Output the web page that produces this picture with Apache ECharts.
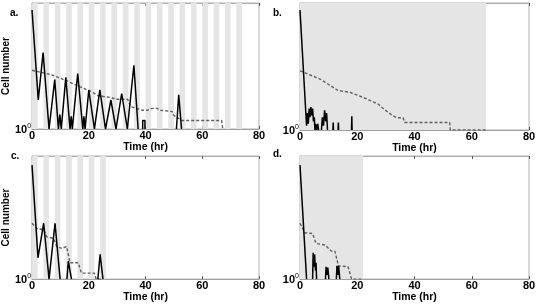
<!DOCTYPE html>
<html><head><meta charset="utf-8">
<script src="https://cdn.jsdelivr.net/npm/echarts@6/dist/echarts.min.js"></script>
<style>html,body{margin:0;padding:0;background:#fff}#c{width:545px;height:304px}</style>
</head><body><div id="c"></div>
<script>
// ---- data (time in hr, cell number; null = gap in the trace) ----
const xTicks = [0, 20, 40, 60, 80];
const panelLabels = ['a.', 'b.', 'c.', 'd.'];

const aBands = [[0,2],[4,6],[8,10],[12,14],[16,18],[20,22],[24,26],[28,30],[32,34],[36,38],[40,42],[44,46],[48,50],[52,54],[56,58],[60,62],[64,66],[68,70],[72,74]];
const aSolidT = [0, 2.2, 3.9, 6.0, 8.0, 9.3, 9.8, 10.3, 11.9, 13.4, 13.8, 14.2, 16.1, 17.9, 18.3, 18.7, 20.0, 22.0, 23.9, 25.9, 27.8, 29.6, 31.6, 33.6, 35.9, 37.4, 38.2, 39.0, 39.0, 39.8, 39.8, 45, 50.9, 51.7, 52.7];
const aSolidN = [680, 4.9, 66, 1, 15, 1, 2.2, 1, 17, 1, 2, 1, 21, 1, 2, 1, 8.5, 1, 8.5, 1, 4.9, 1, 7, 1, 33, 1, null, 1, 1.6, 1.6, 1, null, 1, 6.5, 1];
const aDashT = [0, 7.0, 12.8, 16.3, 20.9, 23.2, 27.9, 29.6, 33.7, 34.8, 38.9, 40.6, 42.4, 44.1, 45.3, 49.4, 50.0, 52.8, 66.8, 67.2];
const aDashN = [25, 19.5, 13.5, 10.5, 7.8, 6.2, 5.6, 5.1, 5.1, 3.4, 2.8, 2.8, 3.1, 3.1, 2.8, 2.6, 2.1, 1.6, 1.6, 1.05];

const bBands = [[0,65]];
const bSolidT = [0, 2.0, 2.3, 2.6, 2.9, 3.2, 3.5, 3.8, 4.1, 4.4, 4.7, 5.0, 5.2, 5.5, 5.8, 6.2, 6.5, 7.0, 7.5, 7.8, 8.2, 8.6, 9.0, 9.3, 9.6, 10.5, 11.5, 11.6, 11.7, 12.5, 13.3, 13.4, 13.5, 15, 18.0, 18.1, 18.2];
const bSolidN = [680, 2.8, 1.26, 2.5, 1.4, 3.2, 2, 3.5, 2.2, 3.2, 1.6, 2, 1, 1.4, 1, 1.4, 1, null, 1, 2, 1.26, 2.9, 1.6, 2.5, 1, null, 1, 1.5, 1, null, 1, 1.5, 1, null, 1, 2.1, 1];
const bDashT = [0, 7, 13.4, 17.4, 22, 27.3, 29.6, 31.9, 33.7, 36, 36.6, 52.3, 52.5, 65];
const bDashN = [25, 16, 8.5, 7.8, 5.9, 4.1, 3, 2.3, 1.95, 1.95, 1.5, 1.5, 1, 1];

const cBands = [[0,2],[4,6],[8,10],[12,14],[16,18],[20,22],[24,26]];
const cSolidT = [0, 2.1, 4.1, 6.0, 8.1, 9.9, 11, 12.3, 12.8, 13.9, 18, 23.2, 24.0, 25.0];
const cSolidN = [600, 3.3, 23, 1, 23, 1, null, 1, 2.75, 1, null, 1, 4, 1];
const cDashT = [0, 1.7, 4.1, 5.2, 7.6, 8.7, 10.5, 12.2, 13.4, 16.3, 17.4, 22.0, 22.6, 25];
const cDashN = [23, 17, 16, 10.7, 9.8, 6.2, 5.6, 6.2, 2.5, 2.5, 1.4, 1.4, 1, 1];

const dBands = [[0,22]];
const dSolidT = [0, 2.3, 3.3, 4.4, 4.6, 4.9, 5.1, 5.4, 5.6, 5.8, 7, 8.9, 9.1, 9.4, 9.7, 10.1, 11, 12.7, 12.9, 13.2, 13.5, 13.9];
const dSolidN = [600, 1, null, 1, 4.4, 2, 4, 1.6, 2.5, 1, null, 1, 2, 1.26, 1.9, 1, null, 1, 2.1, 1.26, 2.1, 1];
const dDashT = [0, 1.7, 4.4, 5.6, 8.7, 11.0, 12.2, 13.4, 16.8, 18.0, 21.8];
const dDashN = [23, 13.5, 12.9, 7.4, 6.8, 4.8, 4.8, 2.1, 2, 1, 1];

// ---- layout ----
const FONT = "'Liberation Sans', Arial, Helvetica, sans-serif";
const panels = [
  {grid:{left:30, top:3, width:229, height:126}, bands:aBands, sT:aSolidT, sN:aSolidN, dT:aDashT, dN:aDashN, yName:'Cell number', lab:[10,12]},
  {grid:{left:300, top:3, width:229, height:127}, bands:bBands, sT:bSolidT, sN:bSolidN, dT:bDashT, dN:bDashN, yName:'', lab:[273,12]},
  {grid:{left:30, top:156, width:229, height:126}, bands:cBands, sT:cSolidT, sN:cSolidN, dT:cDashT, dN:cDashN, yName:'Cell number', lab:[11,155]},
  {grid:{left:300, top:156, width:229, height:126}, bands:dBands, sT:dSolidT, sN:dSolidN, dT:dDashT, dN:dDashN, yName:'', lab:[273,153]}
];

const pair = (T, N) => T.map((t, i) => [t, N[i] === null ? '-' : N[i]]);

const grid = [], xAxis = [], yAxis = [], series = [], graphic = [];
panels.forEach((p, i) => {
  grid.push(Object.assign({show:true, borderColor:'#b0b0b0', borderWidth:1, backgroundColor:'transparent'}, p.grid));
  xAxis.push({
    gridIndex:i, type:'value', min:xTicks[0], max:xTicks[xTicks.length-1], interval:20, position:'bottom',
    axisLine:{show:true, lineStyle:{color:'#a0a0a0', width:1}},
    axisTick:{show:true, inside:true, length:3, lineStyle:{color:'#555'}},
    axisLabel:{show:true, margin:1, fontFamily:FONT, fontWeight:'bold', fontSize:11, color:'#000'},
    splitLine:{show:false},
    name:'Time (hr)', nameLocation:'middle', nameGap:4,
    nameTextStyle:{fontFamily:FONT, fontWeight:'bold', fontSize:10.5, color:'#000'}
  });
  xAxis.push({
    gridIndex:i, type:'value', min:0, max:80, interval:20, position:'top',
    axisLine:{show:true, lineStyle:{color:'#b0b0b0', width:1}},
    axisTick:{show:true, inside:true, length:3, lineStyle:{color:'#555'}},
    axisLabel:{show:false}, splitLine:{show:false}
  });
  yAxis.push({
    gridIndex:i, type:'log', logBase:10, min:1, max:1000,
    axisLine:{show:true, lineStyle:{color:'#b0b0b0', width:1}},
    axisTick:{show:false}, splitLine:{show:false}, minorTick:{show:false},
    axisLabel:{show:true, margin:1,
      formatter: v => (Math.abs(v - 1) < 1e-9 ? '{b|10}{s|0}' : ''),
      rich:{b:{fontFamily:FONT, fontWeight:'bold', fontSize:11, color:'#000', lineHeight:13, verticalAlign:'bottom'},
            s:{fontFamily:FONT, fontSize:7, color:'#000', lineHeight:8, verticalAlign:'top'}}},
    name:p.yName, nameLocation:'middle', nameGap:16, nameRotate:90,
    nameTextStyle:{fontFamily:FONT, fontWeight:'bold', fontSize:10, color:'#000'}
  });
  series.push({
    type:'line', xAxisIndex:2*i, yAxisIndex:i, data:[[0,1]], symbol:'none', silent:true, z:1,
    lineStyle:{width:0, opacity:0},
    markArea:{silent:true, itemStyle:{color:'#e5e5e5', opacity:1},
      data:p.bands.map(b => [{xAxis:b[0]}, {xAxis:b[1]}])}
  });
  series.push({
    type:'line', xAxisIndex:2*i, yAxisIndex:i, data:pair(p.dT, p.dN), symbol:'none', z:3,
    connectNulls:false,
    lineStyle:{color:'#606060', width:1.4, type:[3,2]}
  });
  series.push({
    type:'line', xAxisIndex:2*i, yAxisIndex:i, data:pair(p.sT, p.sN), symbol:'none', z:4,
    connectNulls:false,
    lineStyle:{color:'#000', width:1.5}
  });
  graphic.push({type:'text', left:p.lab[0], top:p.lab[1]-4,
    style:{text:panelLabels[i], fontFamily:FONT, fontWeight:'bold', fontSize:10, fill:'#000'}});
});

const chart = echarts.init(document.getElementById('c'), null, {renderer:'canvas'});
chart.setOption({animation:false, backgroundColor:'#fff', grid, xAxis, yAxis, series, graphic});
</script></body></html>
